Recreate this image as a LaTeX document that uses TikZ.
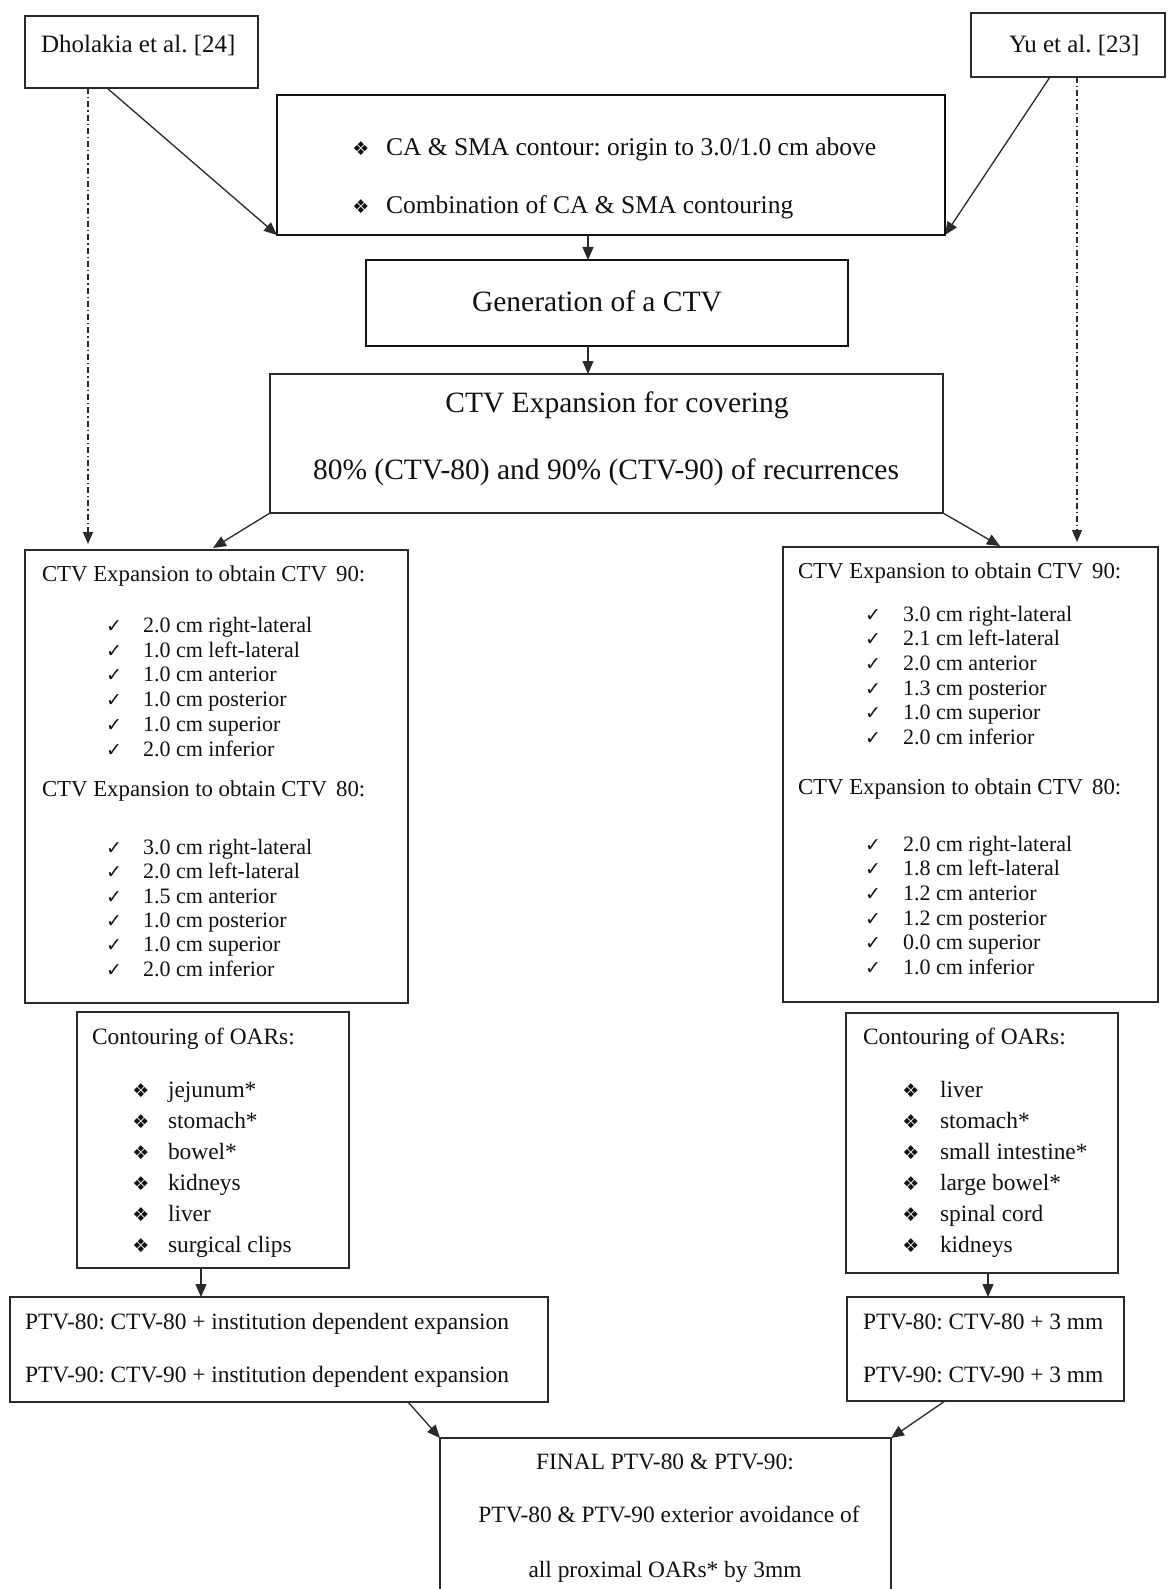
\documentclass[tikz,border=0pt]{standalone}
\usepackage{fontspec}
\setmainfont{Liberation Serif}
\newfontfamily\dvs{DejaVu Sans}
\usetikzlibrary{arrows.meta,calc}
\frenchspacing
\definecolor{ink}{HTML}{111111}
\definecolor{linec}{HTML}{2A2A2A}
\tikzset{
  box/.style={draw=linec, line width=1.4pt, anchor=north west, inner sep=0pt, outer sep=0pt},
  thickbox/.style={draw=ink, line width=2.6pt, anchor=north west, inner sep=0pt, outer sep=0pt},
  txt/.style={inner sep=0pt, outer sep=0pt, text=ink, text height=1.5ex, text depth=0.25ex, yshift=-6.5pt},
  fbig/.style={font=\fontsize{29.5}{34}\selectfont},
  flab/.style={font=\fontsize{25}{29}\selectfont},
  fca/.style={font=\fontsize{25.5}{30}\selectfont},
  fmid/.style={font=\fontsize{23.4}{27}\selectfont},
  fhead/.style={font=\fontsize{22.8}{27}\selectfont},
  fitem/.style={font=\fontsize{22}{26}\selectfont},
  chk/.style={txt, font=\dvs\fontsize{19}{22}\selectfont},
  dia/.style={txt, font=\dvs\fontsize{19}{22}\selectfont},
  arr/.style={draw=linec, line width=1.3pt, -{Triangle[length=13pt,width=11pt]}},
  ddarr/.style={draw=linec, line width=1.1pt, dash pattern=on 6pt off 3pt on 1.3pt off 3pt, -{Triangle[length=12pt,width=10pt]}}
}
\begin{document}
\begin{tikzpicture}[x=1pt,y=-1pt]
\fill[white] (0,0) rectangle (1167,1589);
\useasboundingbox (0,0) rectangle (1167,1589);

% ---------------- boxes ----------------
\node[box, minimum width=233pt, minimum height=72pt] (dh) at (25,16) {};
\node[box, minimum width=194pt, minimum height=64pt] (yu) at (971,13) {};
\node[thickbox, minimum width=668pt, minimum height=140pt] (ca) at (277,95) {};
\node[thickbox, minimum width=482pt, minimum height=86pt] (gen) at (366,260) {};
\node[box, minimum width=673pt, minimum height=139pt] (ctv) at (270,374) {};
\node[box, minimum width=383pt, minimum height=453pt] (ctvl) at (25,550) {};
\node[box, minimum width=375pt, minimum height=455pt] (ctvr) at (783,547) {};
\node[box, minimum width=272pt, minimum height=256pt] (oarl) at (77,1012) {};
\node[box, minimum width=272pt, minimum height=260pt] (oarr) at (846,1013) {};
\node[box, minimum width=538pt, minimum height=105pt] (ptvl) at (10,1297) {};
\node[box, minimum width=277pt, minimum height=104pt] (ptvr) at (847,1297) {};
\node[box, minimum width=451pt, minimum height=180pt] (fin) at (440,1438) {};

% ---------------- texts ----------------
\node[txt, flab, anchor=west] (dht) at (41,43) {Dholakia et al. [24]};
\node[txt, flab, anchor=west] (yut) at (1009,43) {Yu et al. [23]};

\node[dia] (cab1) at (361,146) {❖};
\node[txt, fca, anchor=west] (cat1) at (386,146) {CA \& SMA contour: origin to 3.0/1.0 cm above};
\node[dia] (cab2) at (361,204) {❖};
\node[txt, fca, anchor=west] (cat2) at (386,204) {Combination of CA \& SMA contouring};

\node[txt, fbig] (gent) at (597,302) {Generation of a CTV};
\node[txt, fbig] (ctvt1) at (617,403) {CTV Expansion for covering};
\node[txt, fbig] (ctvt2) at (606,470) {80\% (CTV-80) and 90\% (CTV-90) of recurrences};

% left CTV box
\node[txt, fhead, anchor=west] (lh1) at (42,572) {CTV Expansion to obtain CTV\hspace{0.15em} 90:};
\foreach \t [count=\i] in {2.0 cm right-lateral, 1.0 cm left-lateral, 1.0 cm anterior, 1.0 cm posterior, 1.0 cm superior, 2.0 cm inferior}{
  \node[chk] (lac\i) at (114,{623+24.8*(\i-1)}) {✓};
  \node[txt, fitem, anchor=west] (la\i) at (143,{623+24.8*(\i-1)}) {\t};
}
\node[txt, fhead, anchor=west] (lh2) at (42,787) {CTV Expansion to obtain CTV\hspace{0.15em} 80:};
\foreach \t [count=\i] in {3.0 cm right-lateral, 2.0 cm left-lateral, 1.5 cm anterior, 1.0 cm posterior, 1.0 cm superior, 2.0 cm inferior}{
  \node[chk] (lbc\i) at (114,{845+24.4*(\i-1)}) {✓};
  \node[txt, fitem, anchor=west] (lb\i) at (143,{845+24.4*(\i-1)}) {\t};
}

% right CTV box
\node[txt, fhead, anchor=west] (rh1) at (798,569) {CTV Expansion to obtain CTV\hspace{0.15em} 90:};
\foreach \t [count=\i] in {3.0 cm right-lateral, 2.1 cm left-lateral, 2.0 cm anterior, 1.3 cm posterior, 1.0 cm superior, 2.0 cm inferior}{
  \node[chk] (rac\i) at (873,{612+24.6*(\i-1)}) {✓};
  \node[txt, fitem, anchor=west] (ra\i) at (903,{612+24.6*(\i-1)}) {\t};
}
\node[txt, fhead, anchor=west] (rh2) at (798,785) {CTV Expansion to obtain CTV\hspace{0.15em} 80:};
\foreach \t [count=\i] in {2.0 cm right-lateral, 1.8 cm left-lateral, 1.2 cm anterior, 1.2 cm posterior, 0.0 cm superior, 1.0 cm inferior}{
  \node[chk] (rbc\i) at (873,{842+24.6*(\i-1)}) {✓};
  \node[txt, fitem, anchor=west] (rb\i) at (903,{842+24.6*(\i-1)}) {\t};
}

% OAR boxes
\node[txt, fmid, anchor=west] (olt) at (92,1035) {Contouring of OARs:};
\foreach \t [count=\i] in {jejunum*, stomach*, bowel*, kidneys, liver, surgical clips}{
  \node[dia] (olb\i) at (141,{1088+31*(\i-1)}) {❖};
  \node[txt, fmid, anchor=west] (ol\i) at (168,{1088+31*(\i-1)}) {\t};
}
\node[txt, fmid, anchor=west] (ort) at (863,1035) {Contouring of OARs:};
\foreach \t [count=\i] in {liver, stomach*, small intestine*, large bowel*, spinal cord, kidneys}{
  \node[dia] (orb\i) at (911,{1088+31*(\i-1)}) {❖};
  \node[txt, fmid, anchor=west] (or\i) at (940,{1088+31*(\i-1)}) {\t};
}

% PTV boxes
\node[txt, fmid, anchor=west] (pl1) at (25,1320) {PTV-80: CTV-80 + institution dependent expansion};
\node[txt, fmid, anchor=west] (pl2) at (25,1373) {PTV-90: CTV-90 + institution dependent expansion};
\node[txt, fmid, anchor=west] (pr1) at (863,1320) {PTV-80: CTV-80 + 3 mm};
\node[txt, fmid, anchor=west] (pr2) at (863,1373) {PTV-90: CTV-90 + 3 mm};

% final box
\node[txt, fmid] (ft1) at (665,1460) {FINAL PTV-80 \& PTV-90:};
\node[txt, fmid] (ft2) at (669,1513) {PTV-80 \& PTV-90 exterior avoidance of};
\node[txt, fmid] (ft3) at (665,1568) {all proximal OARs* by 3mm};

% ---------------- connectors ----------------
\coordinate (axis) at (588,0);
\coordinate (axl) at (201,0);
\coordinate (axr) at (988,0);

\draw[arr] ($(dh.south west)+(82,0)$) -- (ca.south west);
\draw[arr] ($(yu.south west)+(79,0)$) -- (ca.south east);
\draw[ddarr] ($(dh.south west)+(63,0)$) -- ($(ctvl.north west)+(63,-6)$);
\draw[ddarr] ($(yu.south west)+(106,0)$) -- ($(ctvr.north west)+(294,-5)$);

\draw[arr] (ca.south -| axis) -- (gen.north -| axis);
\draw[arr] (gen.south -| axis) -- (ctv.north -| axis);
\draw[arr] (ctv.south west) -- ($(ctvl.north west)+(188,-2)$);
\draw[arr] (ctv.south east) -- ($(ctvr.north west)+(217,-1)$);

\draw[arr] (oarl.south -| axl) -- (ptvl.north -| axl);
\draw[arr] (oarr.south -| axr) -- (ptvr.north -| axr);

\draw[arr] ($(ptvl.south east)+(-140,0)$) -- (fin.north west);
\draw[arr] ($(ptvr.south west)+(98,0)$) -- (fin.north east);
\end{tikzpicture}
\end{document}
